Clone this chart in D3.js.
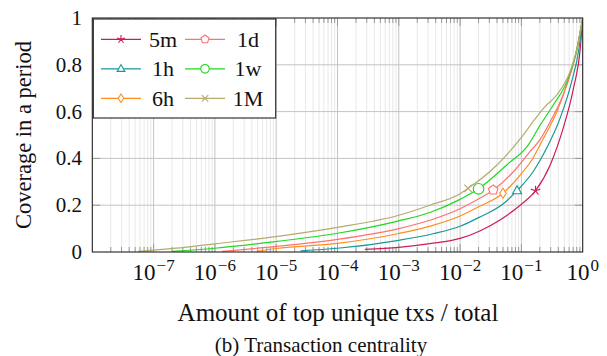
<!DOCTYPE html>
<html><head><meta charset="utf-8">
<script src="https://cdn.jsdelivr.net/npm/d3@7"></script>
<style>
html,body{margin:0;padding:0;background:#fff;}
svg{display:block;}
text{font-family:"Liberation Serif","DejaVu Serif",serif;fill:#111;}
</style></head>
<body>
<svg id="chart" width="607" height="356"></svg>
<script>
// ---------- data ----------
const seriesNames = ["5m","1h","6h","1d","1w","1M"];
const x5m = [2.8e-4,1e-3,3.2e-3,1e-2,0.021,0.0447,0.0955,0.17,0.295,0.479,0.708,0.912,1];
const y5m = [0.011,0.02,0.036,0.058,0.09,0.137,0.2,0.262,0.372,0.528,0.70,0.87,1];
const x1h = [2.5e-5,1e-4,1e-3,3.6e-3,1e-2,0.02,0.05,0.085,0.155,0.257,0.427,0.661,0.871,1];
const y1h = [0.005,0.016,0.05,0.078,0.11,0.147,0.205,0.262,0.343,0.443,0.571,0.728,0.87,1];
const x6h = [4.8e-6,1e-5,1e-4,1e-3,3.6e-3,1e-2,0.02,0.05,0.0955,0.148,0.229,0.38,0.617,0.832,1];
const y6h = [0.003,0.015,0.037,0.079,0.114,0.154,0.193,0.251,0.329,0.393,0.486,0.6,0.756,0.88,1];
const x1d = [1.3e-6,1e-5,1e-4,1e-3,3.6e-3,1e-2,0.0186,0.0347,0.0741,0.138,0.2,0.295,0.479,0.741,1];
const y1d = [0.003,0.024,0.054,0.1,0.14,0.185,0.222,0.265,0.343,0.429,0.479,0.557,0.671,0.828,1];
const x1w = [2e-7,1e-6,1e-5,1e-4,1e-3,3.2e-3,1e-2,0.02,0.0575,0.129,0.2,0.331,0.55,0.79,1];
const y1w = [0.003,0.016,0.045,0.08,0.133,0.169,0.225,0.27,0.372,0.457,0.54,0.628,0.728,0.856,1];
const x1M = [5.6e-8,3.2e-7,1e-6,1e-5,1e-4,1e-3,3.2e-3,1e-2,0.0135,0.04,0.1,0.158,0.24,0.38,0.63,0.79,1];
const y1M = [0.003,0.02,0.035,0.066,0.105,0.157,0.2,0.249,0.272,0.372,0.49,0.56,0.62,0.672,0.775,0.86,1];
// one highlighted marker per series
const markerX = [0.17,0.085,0.05,0.0347,0.02,0.0135];
const markerY = [0.262,0.262,0.251,0.265,0.27,0.272];
const seriesX = [x5m,x1h,x6h,x1d,x1w,x1M];
const seriesY = [y5m,y1h,y6h,y1d,y1w,y1M];
const xTickExps = [-7,-6,-5,-4,-3,-2,-1,0];
const yTicks = [0,0.2,0.4,0.6,0.8,1];
const yTickLabels = ["0","0.2","0.4","0.6","0.8","1"];

// ---------- styles ----------
const colors = ["#cc1c5c","#17989a","#ff8d1e","#ff7272","#22d822","#b5ab6c"];
const shapes = ["star","triangle","diamond","pentagon","circle","cross"];

const svg = d3.select("#chart");
const L = 92.3, R = 582.7, T = 18, B = 252;
const x = d3.scaleLog().domain([1e-8,1]).range([L,R]);
const y = d3.scaleLinear().domain([0,1]).range([B,T]);

// grid
const minorVals = [];
for (let e=-8;e<0;e++) for (let k=2;k<=9;k++) minorVals.push(k*Math.pow(10,e));
const majorVals = d3.range(-7,0).map(e=>Math.pow(10,e));
const g = svg.append("g");
g.selectAll(".mg").data(minorVals).join("line")
  .attr("x1",d=>x(d)).attr("x2",d=>x(d)).attr("y1",T).attr("y2",B)
  .attr("stroke","#e8e8e8").attr("stroke-width",1);
g.selectAll(".Mg").data(majorVals).join("line")
  .attr("x1",d=>x(d)).attr("x2",d=>x(d)).attr("y1",T).attr("y2",B)
  .attr("stroke","#c4c4c4").attr("stroke-width",1);
g.selectAll(".hg").data(yTicks.slice(1,-1)).join("line")
  .attr("x1",L).attr("x2",R).attr("y1",d=>y(d)).attr("y2",d=>y(d))
  .attr("stroke","#c4c4c4").attr("stroke-width",1);

// tick marks (inward, bottom & top, left & right)
[[B,-1],[T,1]].forEach(([yy,dir])=>{
  g.selectAll(null).data(minorVals).join("line")
    .attr("x1",d=>x(d)).attr("x2",d=>x(d)).attr("y1",yy).attr("y2",yy+dir*5)
    .attr("stroke","#999").attr("stroke-width",1);
  g.selectAll(null).data(majorVals).join("line")
    .attr("x1",d=>x(d)).attr("x2",d=>x(d)).attr("y1",yy).attr("y2",yy+dir*8)
    .attr("stroke","#999").attr("stroke-width",1);
});
[[L,1],[R,-1]].forEach(([xx,dir])=>{
  g.selectAll(null).data(yTicks.slice(1,-1)).join("line")
    .attr("x1",xx).attr("x2",xx+dir*8).attr("y1",d=>y(d)).attr("y2",d=>y(d))
    .attr("stroke","#999").attr("stroke-width",1);
});

// clip
svg.append("clipPath").attr("id","clip").append("rect")
  .attr("x",L).attr("y",T-2).attr("width",R-L).attr("height",B-T+2);

const line = d3.line().x(d=>x(d[0])).y(d=>y(d[1])).curve(d3.curveMonotoneX);
const lines = svg.append("g").attr("clip-path","url(#clip)");
seriesX.forEach((xs,i)=>{
  const pts = xs.map((v,j)=>[v,seriesY[i][j]]);
  lines.append("path").datum(pts).attr("d",line)
    .attr("fill","none").attr("stroke",colors[i]).attr("stroke-width",1.2);
});

function markerPath(shape, r){
  const p = d3.path();
  if (shape==="circle"){ p.arc(0,0,r,0,2*Math.PI); }
  else if (shape==="triangle"){ p.moveTo(0,-r); p.lineTo(r*0.9,r*0.6); p.lineTo(-r*0.9,r*0.6); p.closePath(); }
  else if (shape==="diamond"){ p.moveTo(0,-r); p.lineTo(r*0.65,0); p.lineTo(0,r); p.lineTo(-r*0.65,0); p.closePath(); }
  else if (shape==="pentagon"){
    for (let k=0;k<5;k++){ const a=-Math.PI/2+k*2*Math.PI/5; const px=r*Math.cos(a), py=r*Math.sin(a); k?p.lineTo(px,py):p.moveTo(px,py);} p.closePath(); }
  else if (shape==="cross"){ const s=r*0.75; p.moveTo(-s,-s); p.lineTo(s,s); p.moveTo(-s,s); p.lineTo(s,-s); }
  else if (shape==="star"){ for (let k=0;k<5;k++){ const a=-Math.PI/2+k*2*Math.PI/5; p.moveTo(0,0); p.lineTo(r*Math.cos(a),r*Math.sin(a)); } }
  return p.toString();
}
const marks = svg.append("g");
markerX.forEach((mx,i)=>{
  marks.append("path").attr("d",markerPath(shapes[i], shapes[i]==="circle"?5.3:5))
    .attr("transform",`translate(${x(mx)},${y(markerY[i])})`)
    .attr("fill","#fff").attr("fill-opacity",shapes[i]==="star"||shapes[i]==="cross"?0:1)
    .attr("stroke",colors[i]).attr("stroke-width",1.1);
});

// frame
svg.append("rect").attr("x",L).attr("y",T).attr("width",R-L).attr("height",B-T)
  .attr("fill","none").attr("stroke","#222").attr("stroke-width",1.1);

// y tick labels
svg.selectAll(".yl").data(yTicks).join("text")
  .attr("x",82).attr("y",d=>y(d)+7).attr("text-anchor","end")
  .attr("font-size",21).text((d,i)=>yTickLabels[i]);

// x tick labels
const xl = svg.selectAll(".xl").data(xTickExps).join("text")
  .attr("x",d=>x(Math.pow(10,d))).attr("y",280).attr("text-anchor","middle")
  .attr("font-size",23);
xl.append("tspan").text("10");
xl.append("tspan").attr("dy",-9).attr("dx",1).attr("font-size",17).text(d=>d<0?"\u2212"+(-d):String(d));

// axis titles
svg.append("text").attr("x",338).attr("y",321).attr("text-anchor","middle")
  .attr("font-size",25).text("Amount of top unique txs / total");
svg.append("text").attr("transform",`translate(31,${(T+B)/2}) rotate(-90)`)
  .attr("text-anchor","middle").attr("font-size",22.5).text("Coverage in a period");
svg.append("text").attr("x",321).attr("y",352).attr("text-anchor","middle")
  .attr("font-size",21).text("(b) Transaction centrality");

// legend
const leg = svg.append("g");
leg.append("rect").attr("x",93.3).attr("y",19).attr("width",182.4).attr("height",99)
  .attr("fill","#fff").attr("stroke","#222").attr("stroke-width",1.1);
const legOrder = [0,3,1,4,2,5]; // row-major: 5m 1d / 1h 1w / 6h 1M
legOrder.forEach((si,k)=>{
  const col = k%2, row = Math.floor(k/2);
  const lx = col===0?101:185, ly = 39.3+row*29.5;
  leg.append("line").attr("x1",lx).attr("x2",lx+40).attr("y1",ly).attr("y2",ly)
    .attr("stroke",colors[si]).attr("stroke-width",1.2);
  leg.append("path").attr("d",markerPath(shapes[si], 4.3))
    .attr("transform",`translate(${lx+20},${ly})`)
    .attr("fill","#fff").attr("fill-opacity",shapes[si]==="star"||shapes[si]==="cross"?0:1)
    .attr("stroke",colors[si]).attr("stroke-width",1.1);
  leg.append("text").attr("x",col===0?163:248).attr("y",ly+7.5).attr("text-anchor","middle")
    .attr("font-size",22).text(seriesNames[si]);
});
</script>
</body></html>
